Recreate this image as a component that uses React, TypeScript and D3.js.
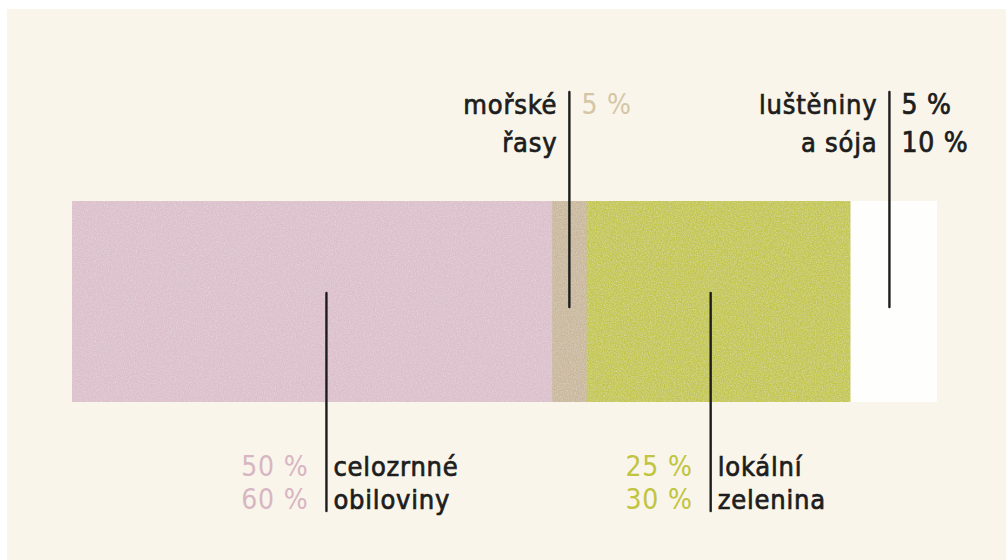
import React from 'react';
import * as d3 from 'd3';

// segments of the bar, left to right
const categories = ['cereals', 'seaweed', 'vegetables', 'legumes'];
const nameLines = [
  ['celozrnné', 'obiloviny'],
  ['mořské', 'řasy'],
  ['lokální', 'zelenina'],
  ['luštěniny', 'a sója'],
];
const pctLines = [
  ['50 %', '60 %'],
  ['5 %'],
  ['25 %', '30 %'],
  ['5 %', '10 %'],
];
// widths of the drawn segments (share of the bar)
const shares = [55.5, 4, 30.5, 10];
// where the leader line sits inside each segment (0 = left edge, 1 = right)
const leaderAt = [0.53, 0.5, 0.47, 0.45];
const sides = ['bottom', 'top', 'bottom', 'top'];

const fills = ['#dbbfca', '#c9b79b', '#c3c64b', '#fefefd'];
const pctColors = ['#d8b5c3', '#d5c5a6', '#c0c43e', '#1d1d1d'];
const INK = '#1d1d1d';
const FONT = '"DejaVu Sans Condensed", "DejaVu Sans", sans-serif';

export default function App() {
  const W = 1006;
  const H = 560;
  const bar = { x0: 72, x1: 937, y0: 201, y1: 402 };

  const x = d3.scaleLinear().domain([0, d3.sum(shares)]).range([bar.x0, bar.x1]);
  const cum = d3.cumsum(shares);
  const segs = categories.map((c, i) => {
    const a = i === 0 ? 0 : cum[i - 1];
    const b = cum[i];
    return { c, i, x0: x(a), x1: x(b), lx: x(a + (b - a) * leaderAt[i]) };
  });

  const top = { lineY0: 92, lineY1: 307, base: [114, 152] };
  const bot = { lineY0: 293, lineY1: 511, base: [476, 509] };

  return (
    <div style={{ position: 'fixed', left: 0, top: 0, background: '#fff' }}>
      <svg width={W} height={H} style={{ display: 'block' }}>
        <defs>
          <filter id="grain" x="0" y="0" width="1" height="1">
            <feTurbulence type="fractalNoise" baseFrequency="0.85" numOctaves="2" seed="4" result="n" />
            <feColorMatrix
              in="n"
              type="matrix"
              values="0 0 0 0 1  0 0 0 0 1  0 0 0 0 1  0.5 0 0 0 -0.18"
              result="w"
            />
            <feComposite in="w" in2="SourceGraphic" operator="in" result="wc" />
            <feMerge>
              <feMergeNode in="SourceGraphic" />
              <feMergeNode in="wc" />
            </feMerge>
          </filter>
        </defs>
        <rect x={7} y={9} width={W - 7} height={H - 9} fill="#f9f5ea" />

        {segs.map((s) => (
          <rect
            key={s.c}
            x={s.x0}
            y={bar.y0}
            width={s.x1 - s.x0 + (s.i < segs.length - 1 ? 0.5 : 0)}
            height={bar.y1 - bar.y0}
            fill={fills[s.i]}
            filter={s.i < 3 ? 'url(#grain)' : undefined}
          />
        ))}

        {segs.map((s) => {
          const isTop = sides[s.i] === 'top';
          const g = isTop ? top : bot;
          const names = nameLines[s.i];
          const pcts = pctLines[s.i];
          const textStyle = {
            fontFamily: FONT,
            fontStretch: 'condensed',
            fontSize: 27,
            letterSpacing: '0.8px',
          };
          const dark = pctColors[s.i] === INK;
          return (
            <g key={'lbl' + s.c}>
              <line
                x1={s.lx}
                x2={s.lx}
                y1={g.lineY0}
                y2={g.lineY1}
                stroke={INK}
                strokeWidth={2.4}
                strokeLinecap="round"
              />
              {names.map((t, k) => (
                <text
                  key={'n' + k}
                  x={isTop ? s.lx - 12 : s.lx + 7}
                  y={g.base[k]}
                  textAnchor={isTop ? 'end' : 'start'}
                  fill={INK}
                  stroke={INK}
                  strokeWidth={0.7}
                  style={textStyle}
                >
                  {t}
                </text>
              ))}
              {pcts.map((t, k) => (
                <text
                  key={'p' + k}
                  x={isTop ? s.lx + 12 : s.lx - 18}
                  y={g.base[k]}
                  textAnchor={isTop ? 'start' : 'end'}
                  fill={pctColors[s.i]}
                  stroke={dark ? INK : 'none'}
                  strokeWidth={dark ? 0.7 : 0}
                  style={{ ...textStyle, fontSize: 28 }}
                >
                  {t}
                </text>
              ))}
            </g>
          );
        })}
      </svg>
    </div>
  );
}
